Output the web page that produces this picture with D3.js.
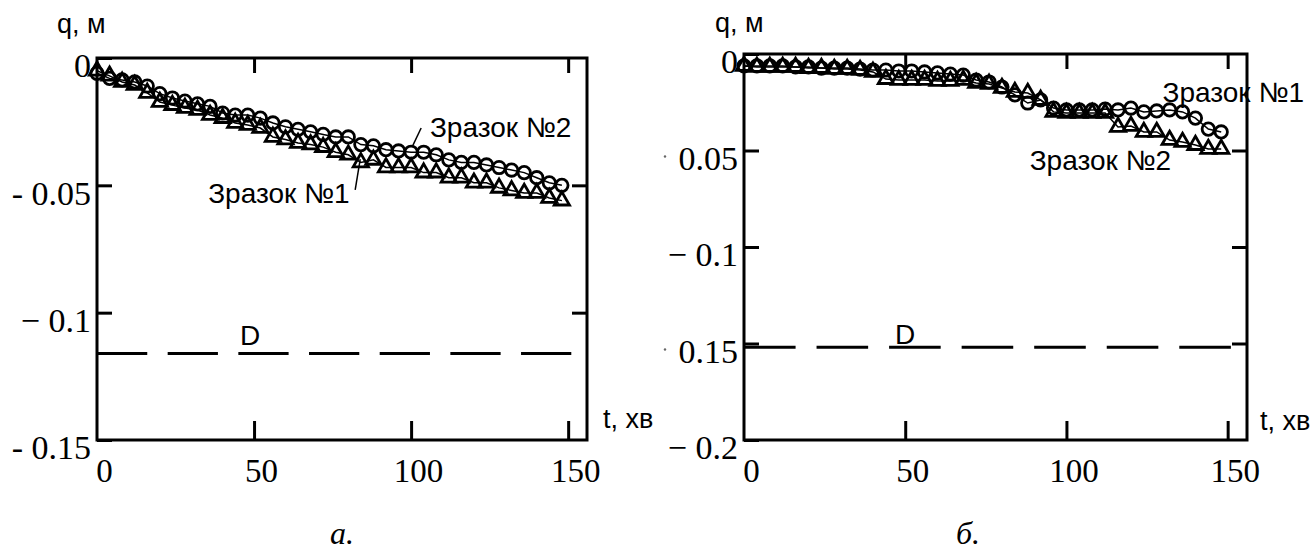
<!DOCTYPE html>
<html><head><meta charset="utf-8">
<script src="https://cdn.jsdelivr.net/npm/d3@7"></script>
<style>body{margin:0;background:#fff}svg{display:block}</style>
</head><body>
<svg id="c" width="1316" height="554"></svg>
<script>
// ---------- data ----------
const timeMin = [0,4,8,12,16,20,24,28,32,36,40,44,48,52,56,60,64,68,72,76,80,84,88,92,96,100,104,108,112,116,120,124,128,132,136,140,144,148];

// panel a
const aCircle = [-0.006,-0.008,-0.0086,-0.0094,-0.011,-0.014,-0.0157,-0.0169,-0.018,-0.019,-0.0216,-0.0224,-0.0224,-0.0236,-0.0255,-0.027,-0.028,-0.029,-0.030,-0.031,-0.031,-0.034,-0.0345,-0.036,-0.0365,-0.037,-0.037,-0.038,-0.040,-0.041,-0.041,-0.042,-0.043,-0.044,-0.045,-0.047,-0.049,-0.050];
const aTriangle = [-0.005,-0.007,-0.0094,-0.0106,-0.0137,-0.0173,-0.0185,-0.0196,-0.0204,-0.0224,-0.0236,-0.0255,-0.0263,-0.0275,-0.031,-0.032,-0.0334,-0.034,-0.035,-0.037,-0.038,-0.041,-0.040,-0.043,-0.043,-0.043,-0.045,-0.045,-0.047,-0.047,-0.049,-0.049,-0.051,-0.052,-0.053,-0.053,-0.055,-0.056];
const aD = -0.116;

// panel b
const bCircle = [-0.0062,-0.0062,-0.0062,-0.0062,-0.0067,-0.0067,-0.0073,-0.0073,-0.0073,-0.0078,-0.0083,-0.0083,-0.0088,-0.0088,-0.0093,-0.0098,-0.0104,-0.0109,-0.0135,-0.0145,-0.0171,-0.0212,-0.0254,-0.0238,-0.028,-0.029,-0.029,-0.029,-0.0285,-0.029,-0.028,-0.030,-0.0295,-0.029,-0.030,-0.0332,-0.0389,-0.0404];
const bTriangle = [-0.0062,-0.0067,-0.0067,-0.0067,-0.0067,-0.0073,-0.0073,-0.0078,-0.0078,-0.0083,-0.0093,-0.013,-0.0135,-0.0135,-0.0135,-0.014,-0.014,-0.0135,-0.015,-0.0155,-0.0176,-0.0197,-0.0202,-0.0238,-0.030,-0.0306,-0.0306,-0.0306,-0.0306,-0.0378,-0.0373,-0.0404,-0.0404,-0.0446,-0.0456,-0.0472,-0.0492,-0.0492];
const bD = -0.152;

const xTicks = [0, 50, 100, 150];
const xInnerTicks = [50, 100, 150];
const xTickLabels = ["0", "50", "100", "150"];
const aYTicks = [0, -0.05, -0.1, -0.15];
const aYLabels = ["0", "- 0.05", "\u2212 0.1", "- 0.15"];
const bYTicks = [0, -0.05, -0.1, -0.15, -0.2];
const bYLabels = ["0", "0.05", "\u2212 0.1", "0.15", "\u2212 0.2"];
const bDottedTicks = [-0.05, -0.15];

const yTitle = "q, м";
const xTitle = "t, хв";
const sample1 = "Зразок №1";
const sample2 = "Зразок №2";

// ---------- drawing ----------
const svg = d3.select("#c");
const SERIF = "'Liberation Serif','Times New Roman',serif";
const SANS = "'Liberation Sans',Arial,sans-serif";

function panel(o) {
  const g = svg.append("g");
  const x = d3.scaleLinear().domain([0, 156]).range([o.left, o.right]);
  const y = d3.scaleLinear().domain([o.yMin, 0]).range([o.bottom, o.top]);

  // frame
  g.append("rect").attr("x", o.left).attr("y", o.top)
    .attr("width", o.right - o.left).attr("height", o.bottom - o.top)
    .attr("fill", "none").attr("stroke", "#000").attr("stroke-width", 3);

  // left axis (with labels)
  const axL = d3.axisLeft(y).tickValues(o.yTicks).tickSizeInner(-15).tickSizeOuter(0)
    .tickPadding(6).tickFormat((d, i) => o.yLabels[i]);
  const gl = g.append("g").attr("transform", `translate(${o.left},0)`).call(axL);
  gl.select(".domain").remove();
  gl.selectAll("line").attr("stroke", "#000").attr("stroke-width", 3);
  gl.selectAll("text").attr("font-family", SERIF).attr("font-size", 34)
    .attr("fill", "#000").attr("dy", "0.55em");

  // faint leftover dots before some labels
  (o.dots || []).forEach(v => {
    g.append("circle").attr("cx", o.left - 79).attr("cy", y(v) + 6).attr("r", 1.2).attr("fill", "#666");
  });

  // right axis (no labels)
  const axR = d3.axisRight(y).tickValues(o.yTicks.filter(v => v !== 0 && v !== o.yMin))
    .tickSizeInner(-15).tickSizeOuter(0).tickFormat("");
  const gr = g.append("g").attr("transform", `translate(${o.right},0)`).call(axR);
  gr.select(".domain").remove();
  gr.selectAll("line").attr("stroke", "#000").attr("stroke-width", 3);

  // bottom axis
  const axB = d3.axisBottom(x).tickValues(xTicks).tickSizeInner(-19).tickSizeOuter(0)
    .tickPadding(19).tickFormat((d, i) => xTickLabels[i]);
  const gb = g.append("g").attr("transform", `translate(0,${o.bottom})`).call(axB);
  gb.select(".domain").remove();
  gb.selectAll("line").attr("stroke", "#000").attr("stroke-width", 3)
    .attr("display", d => d === 0 ? "none" : null);
  gb.selectAll("text").attr("font-family", SERIF).attr("font-size", 33)
    .attr("fill", "#000").attr("x", 7);

  // top axis
  const axT = d3.axisTop(x).tickValues(xInnerTicks).tickSizeInner(-15).tickSizeOuter(0).tickFormat("");
  const gt = g.append("g").attr("transform", `translate(0,${o.top})`).call(axT);
  gt.select(".domain").remove();
  gt.selectAll("line").attr("stroke", "#000").attr("stroke-width", 3);

  // D line
  const dash = x(16) - x(0), gap = x(6.5) - x(0);
  g.append("line").attr("x1", x(0)).attr("x2", x(151))
    .attr("y1", y(o.d)).attr("y2", y(o.d))
    .attr("stroke", "#000").attr("stroke-width", 3)
    .attr("stroke-dasharray", `${dash},${gap}`);
  g.append("text").attr("x", x(o.dLabel[0])).attr("y", y(o.dLabel[1]))
    .attr("font-family", SANS).attr("font-size", 28).text("D");

  // series
  const line = d3.line().x((d, i) => x(timeMin[i])).y(d => y(d));
  [o.circ, o.tri].forEach(s => {
    g.append("path").datum(s).attr("d", line).attr("fill", "none")
      .attr("stroke", "#000").attr("stroke-width", 1.5);
  });
  g.selectAll(null).data(o.tri).join("path")
    .attr("d", d3.symbol(d3.symbolTriangle, 100))
    .attr("transform", (d, i) => `translate(${x(timeMin[i])},${y(d)})`)
    .attr("fill", "none").attr("stroke", "#000").attr("stroke-width", 2.8);
  g.selectAll(null).data(o.circ).join("circle")
    .attr("cx", (d, i) => x(timeMin[i])).attr("cy", d => y(d)).attr("r", 6.2)
    .attr("fill", "none").attr("stroke", "#000").attr("stroke-width", 2.8);

  // titles
  g.append("text").attr("x", o.qPos[0]).attr("y", o.qPos[1])
    .attr("font-family", SANS).attr("font-size", 27).text(yTitle);
  g.append("text").attr("x", o.tPos[0]).attr("y", o.tPos[1])
    .attr("font-family", SANS).attr("font-size", 27).text(xTitle);

  // sample labels
  o.labels.forEach(l => {
    g.append("text").attr("x", x(l.t)).attr("y", y(l.q))
      .attr("font-family", SANS).attr("font-size", 28).text(l.text);
    if (l.leader) {
      g.append("line").attr("x1", x(l.leader[0])).attr("y1", y(l.leader[1]))
        .attr("x2", x(l.leader[2])).attr("y2", y(l.leader[3]))
        .attr("stroke", "#000").attr("stroke-width", 1.5);
    }
  });

  // caption
  g.append("text").attr("x", o.cap[0]).attr("y", o.cap[1])
    .attr("font-family", SERIF).attr("font-style", "italic").attr("font-size", 32)
    .text(o.capText);

  return { x, y, g };
}

panel({
  left: 97, right: 587, top: 58, bottom: 440, yMin: -0.15,
  yTicks: aYTicks, yLabels: aYLabels,
  circ: aCircle, tri: aTriangle, d: aD, dLabel: [45.5, -0.1127],
  qPos: [57, 33], tPos: [603, 428],
  labels: [
    { text: sample2, t: 106, q: -0.031, leader: [103.2, -0.0275, 100.3, -0.035] },
    { text: sample1, t: 35.4, q: -0.057, leader: [82.2, -0.0518, 83.8, -0.0397] }
  ],
  cap: [330, 544], capText: "а."
});

panel({
  left: 744, right: 1247, top: 54, bottom: 440, yMin: -0.2,
  yTicks: bYTicks, yLabels: bYLabels, dots: bDottedTicks,
  circ: bCircle, tri: bTriangle, d: bD, dLabel: [46.8, -0.1505],
  qPos: [715, 32], tPos: [1260, 430],
  labels: [
    { text: sample1, t: 129.8, q: -0.0249 },
    { text: sample2, t: 88.6, q: -0.060 }
  ],
  cap: [956, 544], capText: "б."
});
</script>
</body></html>
